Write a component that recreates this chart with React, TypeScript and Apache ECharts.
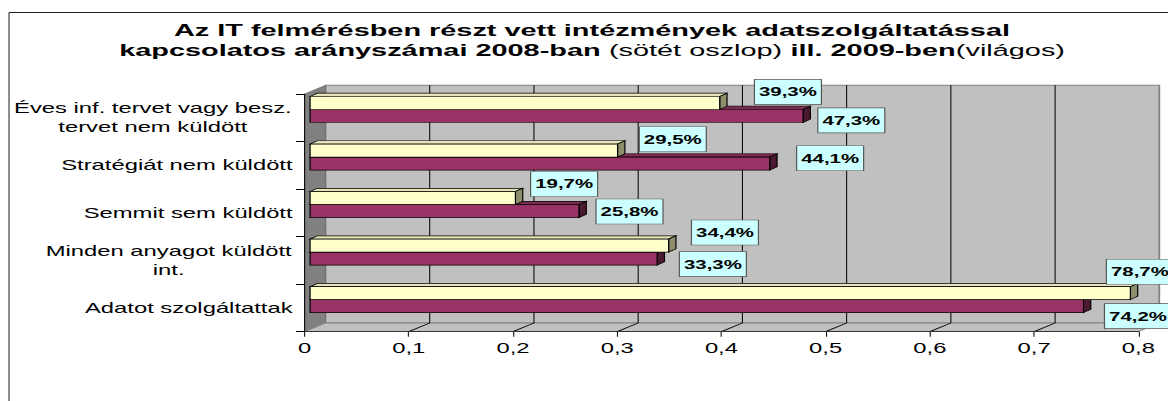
import React, { useEffect, useRef } from "react";
import * as echarts from "echarts";

// ---------- data ----------
const categories = [
  "Éves inf. tervet vagy besz.\ntervet nem küldött",
  "Stratégiát nem küldött",
  "Semmit sem küldött",
  "Minden anyagot küldött\nint.",
  "Adatot szolgáltattak",
];
const values2008 = [0.473, 0.441, 0.258, 0.333, 0.742]; // dark
const values2009 = [0.393, 0.295, 0.197, 0.344, 0.787]; // light
const xMin = 0;
const xMax = 0.8;
const xStep = 0.1;
const titleLine1 = "Az IT felmérésben részt vett intézmények adatszolgáltatással";
const titleLine2 = [
  ["b", "kapcsolatos arányszámai 2008-ban"],
  ["n", " (sötét oszlop) "],
  ["b", "ill. 2009-ben"],
  ["n", "(világos)"],
];

// manual label placement (page px): [dx from bar end, dy from bar face centre]
const labelShift2009 = [[34.7, -11.2], [21.7, -11.3], [15.2, -14.1], [22.8, -13.1], [-24, -21.4]];
const labelShift2008 = [[14.7, 4.4], [26.9, -5.3], [17, 0.4], [22.2, 5.5], [21, 10]];

// ---------- layout / style ----------
const FONT = '"Liberation Sans", Arial, Helvetica, sans-serif';
const S = 1.7; // horizontal stretch of the whole picture
const W = 1168;
const H = 393;
const DX = 21 / S; // wall depth
const DY = -8.7;
const BX = 5.6 / S; // bar plane offset
const BDX = 7.3 / S; // bar depth
const BDY = -3.3;
const BAR_TOP = 2.5;
const BAR_H = 13;

const fmtPct = (v: number) => (v * 100).toFixed(1).replace(".", ",") + "%";
const fmtTick = (v: number) => String(Math.round(v * 10) / 10).replace(".", ",");

export default function App() {
  const ref = useRef<HTMLDivElement>(null);
  useEffect(() => {
    document.documentElement.style.overflow = "hidden";
    document.body.style.overflow = "hidden";
    const el = ref.current!;
    const chart = echarts.init(el, null, { renderer: "svg" });

    // measure multi-line category labels to centre their lines
    const ctx = document.createElement("canvas").getContext("2d")!;
    ctx.font = `14px ${FONT}`;
    const rich: Record<string, any> = {};
    categories.forEach((c, i) => {
      const lines = c.split("\n");
      if (lines.length > 1) {
        const w = Math.max(...lines.map((l) => ctx.measureText(l).width)) + 1;
        rich["c" + i] = { width: w, align: "center", fontSize: 14, lineHeight: 19, fontFamily: FONT, color: "#000" };
      }
    });

    const renderWalls = (params: any, api: any) => {
      const band = api.size([0, 1])[1];
      const a = api.coord([xMin, 0]);
      const b = api.coord([xMax, categories.length - 1]);
      const xL = a[0];
      const xR = b[0];
      const pTop = a[1] - band / 2;
      const pBot = b[1] + band / 2;
      const children: any[] = [
        {
          type: "rect",
          shape: { x: xL + DX, y: pTop + DY, width: xR - xL, height: pBot - pTop },
          style: { fill: "#C0C0C0", stroke: "#808080", lineWidth: 1 },
        },
        {
          type: "polygon",
          shape: { points: [[xL, pTop], [xL + DX, pTop + DY], [xL + DX, pBot + DY], [xL, pBot]] },
          style: { fill: "#808080", stroke: "#707070", lineWidth: 0.6 },
        },
        {
          type: "polygon",
          shape: { points: [[xL, pBot], [xL + DX, pBot + DY], [xR + DX, pBot + DY], [xR, pBot]] },
          style: { fill: "#C0C0C0", stroke: "#808080", lineWidth: 0.8 },
        },
      ];
      for (let k = 1; xMin + k * xStep < xMax - 1e-9; k++) {
        const x = api.coord([xMin + k * xStep, 0])[0];
        children.push({
          type: "line",
          shape: { x1: x + DX, y1: pTop + DY, x2: x + DX, y2: pBot + DY },
          style: { stroke: "#000", lineWidth: 0.6 },
        });
        children.push({
          type: "line",
          shape: { x1: x, y1: pBot, x2: x + DX, y2: pBot + DY },
          style: { stroke: "#000", lineWidth: 0.8 },
        });
      }
      return { type: "group", children };
    };

    const makeBarRender = (light: boolean) => (params: any, api: any) => {
      const v = api.value(0);
      const i = api.value(1);
      const band = api.size([0, 1])[1];
      const c0 = api.coord([0, i]);
      const c1 = api.coord([v, i]);
      const bandTop = c0[1] - band / 2;
      const x0 = c0[0] + BX;
      const x1 = c1[0] + BX;
      const y0 = bandTop + BAR_TOP + (light ? 0 : BAR_H);
      const y1 = y0 + BAR_H;
      const front = light ? "#FFFFCC" : "#993366";
      const top = light ? "#E4E4B6" : "#7D2A54";
      const end = light ? "#8E8E6C" : "#4C1933";
      const st = { stroke: "#000", lineWidth: 0.7 };
      return {
        type: "group",
        children: [
          {
            type: "polygon",
            shape: { points: [[x0, y0], [x0 + BDX, y0 + BDY], [x1 + BDX, y0 + BDY], [x1, y0]] },
            style: { fill: top, ...st },
          },
          {
            type: "polygon",
            shape: { points: [[x1, y0], [x1 + BDX, y0 + BDY], [x1 + BDX, y1 + BDY], [x1, y1]] },
            style: { fill: end, ...st },
          },
          {
            type: "rect",
            shape: { x: x0, y: y0, width: x1 - x0, height: BAR_H },
            style: { fill: front, ...st },
          },
        ],
      };
    };

    const makeLabelRender = (light: boolean) => (params: any, api: any) => {
      const v = api.value(0);
      const i = api.value(1);
      const band = api.size([0, 1])[1];
      const c0 = api.coord([0, i]);
      const c1 = api.coord([v, i]);
      const bandTop = c0[1] - band / 2;
      const x1 = c1[0] + BX;
      const y0 = bandTop + BAR_TOP + (light ? 0 : BAR_H);
      const faceC = y0 + BAR_H / 2;
      const sh = (light ? labelShift2009 : labelShift2008)[i];
      const bw = 67 / S;
      const bh = 25;
      const bx = x1 + sh[0] / S;
      const by = faceC + sh[1] - bh / 2;
      return {
        type: "group",
        children: [
          {
            type: "rect",
            shape: { x: bx, y: by, width: bw, height: bh },
            style: { fill: "#CCFFFF", stroke: "#555", lineWidth: 0.7 },
          },
          {
            type: "text",
            style: {
              text: fmtPct(v),
              x: bx + bw / 2,
              y: by + bh / 2 + 0.5,
              align: "center",
              verticalAlign: "middle",
              fontSize: 12,
              fontWeight: "bold",
              fontFamily: FONT,
              fill: "#000",
            },
          },
        ],
      };
    };

    const titleText =
      `{b|${titleLine1}}\n` + titleLine2.map(([k, t]) => `{${k}|${t}}`).join("");

    const option: any = {
      animation: false,
      backgroundColor: "#fff",
      title: {
        text: titleText,
        left: "center",
        top: 12,
        padding: 0,
        textStyle: {
          rich: {
            b: { fontSize: 17, fontWeight: "bold", fontFamily: FONT, color: "#000", lineHeight: 20 },
            n: { fontSize: 17, fontWeight: "normal", fontFamily: FONT, color: "#000", lineHeight: 20 },
          },
        },
      },
      graphic: [
        { type: "line", shape: { x1: 0.6, y1: 4.5, x2: W / S + 20, y2: 4.5 }, style: { stroke: "#222", lineWidth: 1 } },
        { type: "line", shape: { x1: 0.6, y1: 4.5, x2: 0.6, y2: H + 20 }, style: { stroke: "#222", lineWidth: 0.6 } },
      ],
      grid: { left: 170.4, top: 86, width: 494.5, height: 237.7 },
      xAxis: {
        type: "value",
        min: xMin,
        max: xMax,
        interval: xStep,
        z: 4,
        splitLine: { show: false },
        axisLine: { show: true, lineStyle: { color: "#333", width: 1 } },
        axisTick: { show: true, length: 5, lineStyle: { color: "#000", width: 0.6 } },
        axisLabel: { margin: 9, fontSize: 14, fontFamily: FONT, color: "#000", formatter: fmtTick },
      },
      yAxis: {
        type: "category",
        data: categories,
        inverse: true,
        z: 4,
        splitLine: { show: false },
        axisLine: { show: true, lineStyle: { color: "#000", width: 0.6 } },
        axisTick: { show: true, length: 5, lineStyle: { color: "#000", width: 1 } },
        axisLabel: {
          margin: 7,
          fontSize: 14,
          lineHeight: 19,
          fontFamily: FONT,
          color: "#000",
          formatter: (val: string, idx: number) => {
            const lines = val.split("\n");
            return lines.length > 1 ? lines.map((l) => `{c${idx}|${l}}`).join("\n") : val;
          },
          rich,
        },
      },
      series: [
        { type: "custom", name: "walls", z: 1, data: [[xMin, 0]], renderItem: renderWalls, silent: true },
        {
          type: "custom",
          name: "2008",
          z: 2,
          data: values2008.map((v, i) => [v, i]),
          encode: { x: 0, y: 1 },
          renderItem: makeBarRender(false),
        },
        {
          type: "custom",
          name: "2009",
          z: 3,
          data: values2009.map((v, i) => [v, i]),
          encode: { x: 0, y: 1 },
          renderItem: makeBarRender(true),
        },
        {
          type: "custom",
          name: "labels2008",
          z: 6,
          data: values2008.map((v, i) => [v, i]),
          encode: { x: 0, y: 1 },
          renderItem: makeLabelRender(false),
        },
        {
          type: "custom",
          name: "labels2009",
          z: 6,
          data: values2009.map((v, i) => [v, i]),
          encode: { x: 0, y: 1 },
          renderItem: makeLabelRender(true),
        },
      ],
    };
    chart.setOption(option);
    return () => chart.dispose();
  }, []);

  return (
    <div style={{ width: W, height: H, overflow: "hidden" }}>
      <div
        ref={ref}
        style={{ width: W / S, height: H, transform: `scaleX(${S})`, transformOrigin: "0 0" }}
      />
    </div>
  );
}
